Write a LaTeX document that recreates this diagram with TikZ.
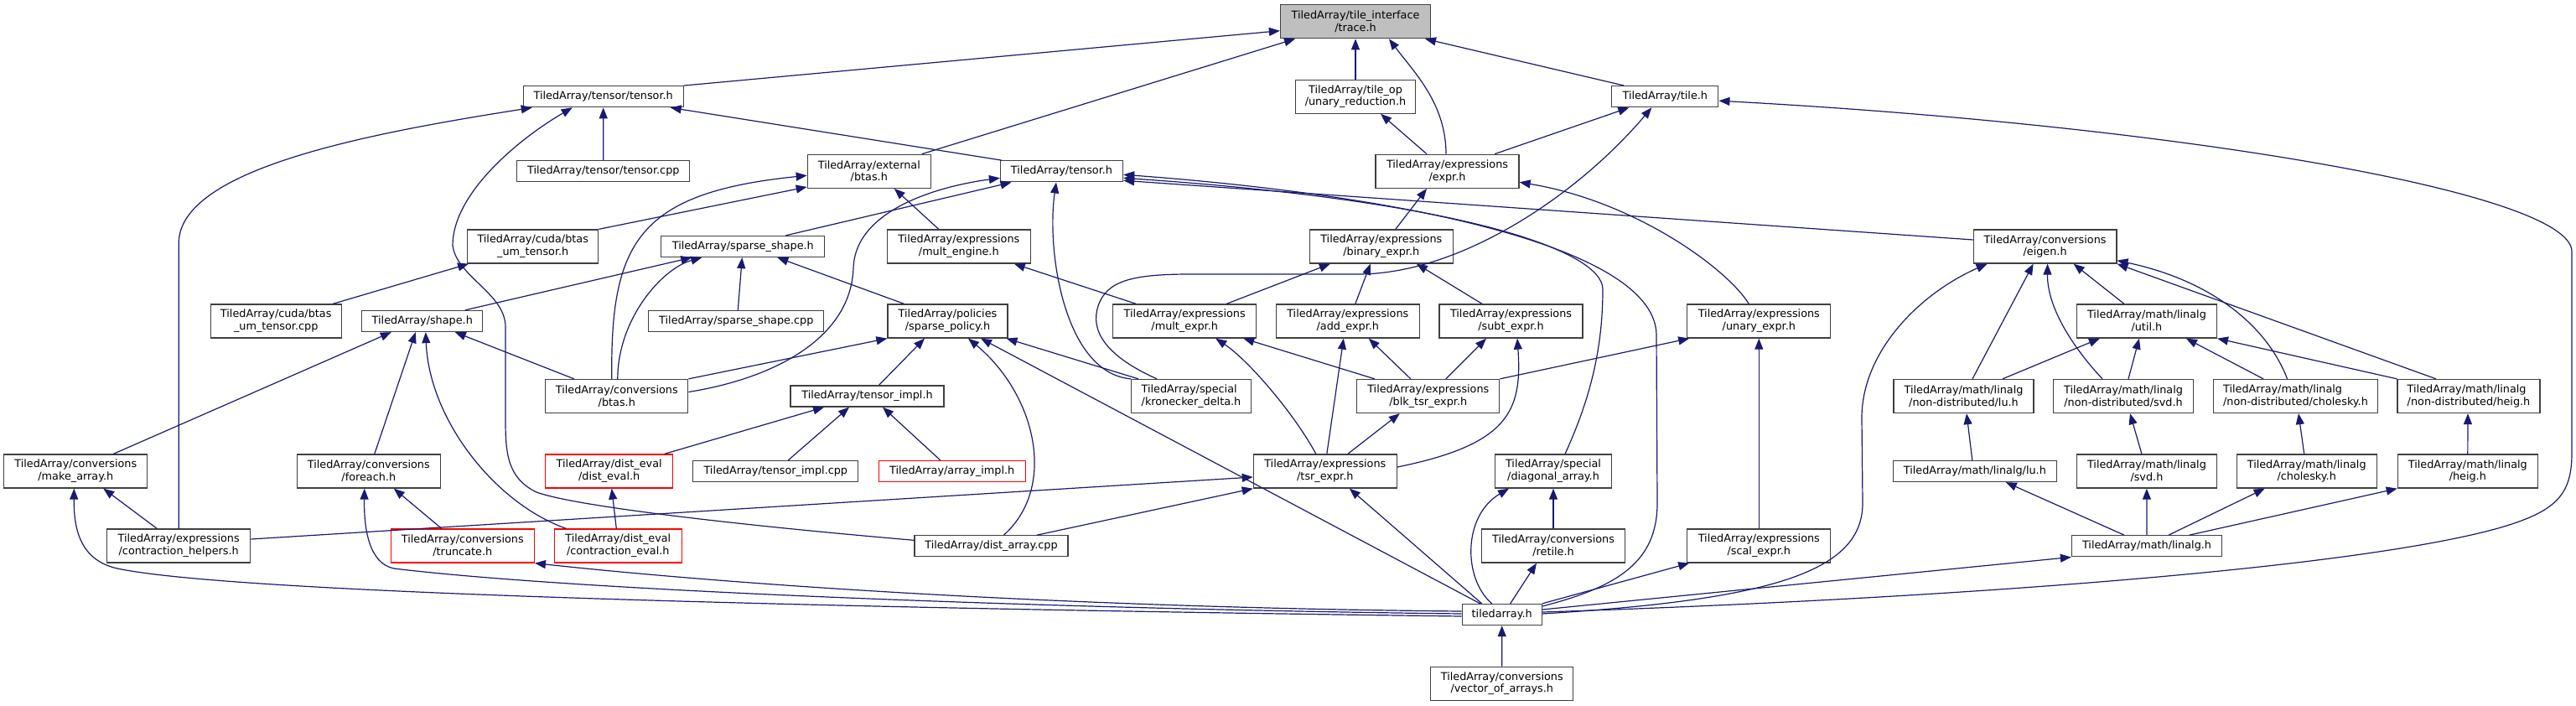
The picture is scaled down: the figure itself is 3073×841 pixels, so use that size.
\documentclass[tikz,border=0pt]{standalone}
\usepackage{fontspec}
\setmainfont{DejaVu Sans}
\usetikzlibrary{arrows.meta}
\definecolor{edgec}{HTML}{191970}
\definecolor{boxc}{HTML}{404040}
\definecolor{rootfill}{HTML}{BFBFBF}
\tikzset{
  box/.style={draw=boxc, fill=white, line width=1.3pt, inner sep=0pt, align=center,
    text=black, font={\fontsize{12.8}{14.8}\selectfont}},
  one/.style={box, minimum height=25pt},
  two/.style={box, minimum height=40pt},
  partial/.style={draw=red},
  rootbox/.style={fill=rootfill},
  edge/.style={draw=edgec, line width=1.2pt, -{Triangle[length=13pt,width=10pt]}},
}
\begin{document}
\begin{tikzpicture}[x=1pt,y=-1pt]
\useasboundingbox (0,0) rectangle (3073,841);
% ---------- nodes ----------
\node[two, minimum width=179pt, rootbox] (trace) at (1617,25.7) {TiledArray/tile\_interface\\/trace.h};
\node[one, minimum width=191pt] (ttensorh) at (719.7,115.2) {TiledArray/tensor/tensor.h};
\node[two, minimum width=143pt] (unaryred) at (1617,115.2) {TiledArray/tile\_op\\/unary\_reduction.h};
\node[one, minimum width=127pt] (tileh) at (1986.3,115.2) {TiledArray/tile.h};
\node[one, minimum width=206pt] (ttensorcpp) at (719.8,204.3) {TiledArray/tensor/tensor.cpp};
\node[two, minimum width=147pt] (extbtas) at (1036.8,204.3) {TiledArray/external\\/btas.h};
\node[one, minimum width=146pt] (tensorh) at (1266.5,204.3) {TiledArray/tensor.h};
\node[two, minimum width=171pt] (expr) at (1726.5,204.3) {TiledArray/expressions\\/expr.h};
\node[two, minimum width=156pt] (cudah) at (635.7,294) {TiledArray/cuda/btas\\\_um\_tensor.h};
\node[one, minimum width=195pt] (sshape) at (886.3,294) {TiledArray/sparse\_shape.h};
\node[two, minimum width=171pt] (multeng) at (1143.8,294) {TiledArray/expressions\\/mult\_engine.h};
\node[two, minimum width=171pt] (binexpr) at (1647.8,294) {TiledArray/expressions\\/binary\_expr.h};
\node[two, minimum width=170.5pt] (eigen) at (2439.6,294) {TiledArray/conversions\\/eigen.h};
\node[two, minimum width=156pt] (cudacpp) at (329.2,383) {TiledArray/cuda/btas\\\_um\_tensor.cpp};
\node[one, minimum width=144pt] (shape) at (503.8,383) {TiledArray/shape.h};
\node[one, minimum width=209pt] (sshapecpp) at (878.3,383) {TiledArray/sparse\_shape.cpp};
\node[two, minimum width=143pt] (spolicy) at (1130.5,383) {TiledArray/policies\\/sparse\_policy.h};
\node[two, minimum width=171pt] (multexpr) at (1413.2,383) {TiledArray/expressions\\/mult\_expr.h};
\node[two, minimum width=171pt] (addexpr) at (1607.8,383) {TiledArray/expressions\\/add\_expr.h};
\node[two, minimum width=171pt] (subtexpr) at (1802.5,383) {TiledArray/expressions\\/subt\_expr.h};
\node[two, minimum width=171pt] (unexpr) at (2098.3,383) {TiledArray/expressions\\/unary\_expr.h};
\node[two, minimum width=167pt] (util) at (2560.9,383) {TiledArray/math/linalg\\/util.h};
\node[two, minimum width=170pt] (convbtas) at (735.8,472.5) {TiledArray/conversions\\/btas.h};
\node[one, minimum width=183pt] (timplh) at (1034.5,472.5) {TiledArray/tensor\_impl.h};
\node[two, minimum width=143pt, align=left] (kron) at (1421,472.5) {TiledArray/special\\/kronecker\_delta.h};
\node[two, minimum width=170pt] (blktsr) at (1703.8,472.5) {TiledArray/expressions\\/blk\_tsr\_expr.h};
\node[two, minimum width=167pt] (ndlu) at (2342.5,472.5) {TiledArray/math/linalg\\/non-distributed/lu.h};
\node[two, minimum width=167pt] (ndsvd) at (2533,472.5) {TiledArray/math/linalg\\/non-distributed/svd.h};
\node[two, minimum width=196pt, align=left] (ndchol) at (2738.5,472.5) {TiledArray/math/linalg\\/non-distributed/cholesky.h};
\node[two, minimum width=170pt, align=left] (ndheig) at (2945,472.5) {TiledArray/math/linalg\\/non-distributed/heig.h};
\node[two, minimum width=171pt] (makearr) at (90.3,562) {TiledArray/conversions\\/make\_array.h};
\node[two, minimum width=171pt] (foreach) at (439.8,562) {TiledArray/conversions\\/foreach.h};
\node[two, minimum width=152pt, partial] (disteval) at (726.7,562) {TiledArray/dist\_eval\\/dist\_eval.h};
\node[one, minimum width=197pt] (timplcpp) at (925.3,562) {TiledArray/tensor\_impl.cpp};
\node[one, minimum width=175pt, partial] (arrimpl) at (1135.7,562) {TiledArray/array\_impl.h};
\node[two, minimum width=171pt] (tsrexpr) at (1580.8,562) {TiledArray/expressions\\/tsr\_expr.h};
\node[two, minimum width=139pt] (diag) at (1853,562) {TiledArray/special\\/diagonal\_array.h};
\node[one, minimum width=195pt] (linlu) at (2355.8,562) {TiledArray/math/linalg/lu.h};
\node[two, minimum width=167pt] (linsvd) at (2560.9,562) {TiledArray/math/linalg\\/svd.h};
\node[two, minimum width=167pt] (linchol) at (2751.7,562) {TiledArray/math/linalg\\/cholesky.h};
\node[two, minimum width=167pt] (linheig) at (2943.8,562) {TiledArray/math/linalg\\/heig.h};
\node[two, minimum width=171pt] (contrh) at (213.2,651) {TiledArray/expressions\\/contraction\_helpers.h};
\node[two, minimum width=171pt, partial] (trunc) at (551.8,651) {TiledArray/conversions\\/truncate.h};
\node[two, minimum width=152pt, partial] (contreval) at (737.3,651) {TiledArray/dist\_eval\\/contraction\_eval.h};
\node[one, minimum width=183pt] (distarr) at (1182.5,651.3) {TiledArray/dist\_array.cpp};
\node[two, minimum width=171pt] (retile) at (1853,651) {TiledArray/conversions\\/retile.h};
\node[two, minimum width=171pt] (scal) at (2098.3,651) {TiledArray/expressions\\/scal\_expr.h};
\node[one, minimum width=179pt] (linalg) at (2561,651.3) {TiledArray/math/linalg.h};
\node[one, minimum width=95pt] (tah) at (1791.7,733) {tiledarray.h};
\node[two, minimum width=170pt] (voa) at (1791.8,815.2) {TiledArray/conversions\\/vector\_of\_arrays.h};
% ---------- edges ----------
% trace.h
\draw[edge] (ttensorh.north east) -- ([yshift=-11]trace.west);
\draw[edge] ([xshift=63]extbtas.north) -- ([xshift=-72]trace.south);
\draw[edge] (unaryred.north) -- (trace.south);
\draw[edge] ([xshift=-1.5]expr.north) .. controls +(0,-60) and +(30,40) .. ([xshift=40]trace.south);
\draw[edge] ([xshift=-49]tileh.north) -- ([xshift=83]trace.south);
% tensor/tensor.h
\draw[edge] (ttensorcpp.north) -- (ttensorh.south);
\draw[edge] ([xshift=-71.5]tensorh.north) -- ([xshift=80]ttensorh.south);
\draw[edge] (contrh.north) -- ++(0,-340) .. controls +(0,-90) and +(-190,30) .. ([xshift=-85]ttensorh.south);
\draw[edge] ([yshift=7]distarr.west) .. controls (900,628) and (690,605) .. (640,587) .. controls (605,570) and (603,540) .. (603,500) -- (603,390) .. controls (603,350) and (545,330) .. (540,293) .. controls (540,230) and (620,165) .. ([xshift=-37]ttensorh.south);
% external/btas.h
\draw[edge] ([xshift=-6]convbtas.north) .. controls (728,290) and (760,230) .. ([yshift=-5]extbtas.west);
\draw[edge] (cudah.north east) -- ([yshift=2]extbtas.south west);
\draw[edge] ([xshift=-24]multeng.north) -- ([xshift=30]extbtas.south);
% tensor.h
\draw[edge] ([yshift=5]convbtas.east) .. controls (930,450) and (1015,400) .. (1018,320) .. controls (1020,250) and (1120,222) .. ([yshift=-8]tensorh.west);
\draw[edge] ([xshift=51]sshape.north) -- ([xshift=-60]tensorh.south);
\draw[edge] (kron.north west) .. controls (1270,445) and (1248,300) .. ([xshift=-6.5]tensorh.south);
\draw[edge] ([yshift=8]eigen.west) -- ([yshift=-11]tensorh.east);
\draw[edge] ([xshift=14]diag.north) .. controls (1895,480) and (1912,420) .. (1912,345) .. controls (1912,300) and (1750,240) .. ([yshift=-8]tensorh.east);
\draw[edge] ([yshift=10]tah.east) .. controls (1930,700) and (1977,670) .. (1977,600) -- (1976,400) .. controls (1976,300) and (1700,235) .. ([yshift=-4]tensorh.east);
% tile.h
\draw[edge] ([xshift=56.5]expr.north) -- ([xshift=-43]tileh.south);
\draw[edge] ([xshift=-41]kron.north) .. controls (1320,425) and (1300,395) .. (1310,365) .. controls (1320,335) and (1350,327) .. (1420,327) -- (1620,327) .. controls (1740,327) and (1880,235) .. ([xshift=-16]tileh.south);
\draw[edge] ([yshift=3]tah.east) .. controls (2300,715) and (2800,680) .. (2980,630) .. controls (3050,610) and (3068,590) .. (3068,540) -- (3068,300) .. controls (3068,230) and (2600,150) .. ([yshift=-5]tileh.east);
% cuda
\draw[edge] ([xshift=68]cudacpp.north) -- ([xshift=2]cudah.south west);
% sparse_shape.h
\draw[edge] ([xshift=1]convbtas.north) .. controls (737,380) and (790,320) .. ([xshift=-49]sshape.south);
\draw[edge] ([xshift=51]shape.north) -- ([xshift=-61]sshape.south);
\draw[edge] ([xshift=2]sshapecpp.north) -- ([xshift=-1]sshape.south);
\draw[edge] ([xshift=-52]spolicy.north) -- ([xshift=41]sshape.south);
% shape.h
\draw[edge] ([xshift=-51]convbtas.north) -- ([xshift=39]shape.south);
\draw[edge] ([xshift=-62]contreval.north) .. controls (590,600) and (512,500) .. ([xshift=4]shape.south);
\draw[edge] ([xshift=45]makearr.north) -- ([xshift=-37]shape.south);
\draw[edge] ([xshift=7]foreach.north) -- ([xshift=-8]shape.south);
% mult_engine.h
\draw[edge] ([xshift=-58]multexpr.north) -- ([xshift=66]multeng.south);
% sparse_policy.h
\draw[edge] (convbtas.north east) -- (spolicy.south west);
\draw[edge] ([xshift=-63]kron.north) -- ([xshift=70]spolicy.south);
\draw[edge] ([xshift=14]timplh.north) -- ([xshift=-27.5]spolicy.south);
\draw[edge] ([xshift=15]distarr.north) .. controls (1262,580) and (1235,470) .. ([xshift=24.5]spolicy.south);
\draw[edge] ([xshift=-26]tah.north) -- ([xshift=39.5]spolicy.south);
% expressions
\draw[edge] ([xshift=50]multexpr.north) -- ([xshift=-61]binexpr.south);
\draw[edge] ([xshift=9]addexpr.north) -- ([xshift=-13]binexpr.south);
\draw[edge] ([xshift=-34.5]subtexpr.north) -- ([xshift=42]binexpr.south);
\draw[edge] ([xshift=17]binexpr.north) -- ([xshift=-24.5]expr.south);
\draw[edge] ([xshift=-24.5]expr.north) -- ([xshift=30]unaryred.south);
\draw[edge] ([xshift=-12]unexpr.north) .. controls (2060,320) and (1950,240) .. ([yshift=-13]expr.east);
\draw[edge] ([xshift=-11]tsrexpr.north) .. controls (1545,495) and (1490,430) .. ([xshift=37]multexpr.south);
\draw[edge] ([xshift=-64]blktsr.north) -- ([xshift=70]multexpr.south);
\draw[edge] ([xshift=2]tsrexpr.north) -- ([xshift=-5]addexpr.south);
\draw[edge] ([xshift=-21]blktsr.north) -- ([xshift=25]addexpr.south);
\draw[edge] ([xshift=21]blktsr.north) -- ([xshift=-29.5]subtexpr.south);
\draw[edge] ([yshift=5]tsrexpr.east) .. controls (1800,530) and (1816,490) .. ([xshift=7.5]subtexpr.south);
\draw[edge] (blktsr.north east) -- ([xshift=3]unexpr.south west);
\draw[edge] (scal.north) -- (unexpr.south);
\draw[edge] (tah.north east) -- ([xshift=3]scal.south west);
\draw[edge] ([xshift=27]tsrexpr.north) -- ([xshift=-34]blktsr.south);
% tsr_expr.h
\draw[edge] ([yshift=8]contrh.east) -- ([yshift=-7]tsrexpr.west);
\draw[edge] ([xshift=54.5]distarr.north) -- (tsrexpr.south west);
\draw[edge] ([xshift=-24]tah.north) -- ([xshift=29]tsrexpr.south);
% diagonal / retile / tiledarray
\draw[edge] ([xshift=-12]tah.north) .. controls (1745,690) and (1745,615) .. ([xshift=-53]diag.south);
\draw[edge] (retile.north) -- (diag.south);
\draw[edge] ([xshift=10]tah.north) -- ([xshift=-20]retile.south);
\draw[edge] (voa.north) -- (tah.south);
% eigen.h
\draw[edge] ([yshift=1]tah.east) .. controls (2120,715) and (2222,680) .. (2222,600) -- (2221,500) .. controls (2220,420) and (2290,350) .. ([xshift=-69]eigen.south);
\draw[edge] ([xshift=10.5]ndlu.north) -- ([xshift=-14]eigen.south);
\draw[edge] ([xshift=-25]ndsvd.north) .. controls (2478,420) and (2442,370) .. ([xshift=3]eigen.south);
\draw[edge] ([xshift=-27]util.north) -- ([xshift=34]eigen.south);
\draw[edge] ([xshift=-10]ndchol.north) .. controls (2705,390) and (2640,335) .. ([yshift=4]eigen.south east);
\draw[edge] ([xshift=-39]ndheig.north) -- (eigen.south east);
% util.h
\draw[edge] ([xshift=46.5]ndlu.north) -- ([xshift=-56]util.south);
\draw[edge] ([xshift=6]ndsvd.north) -- ([xshift=-9]util.south);
\draw[edge] ([xshift=-38.5]ndchol.north) -- ([xshift=47]util.south);
\draw[edge] (ndheig.north west) -- (util.south east);
% non-distributed
\draw[edge] ([xshift=-3]linlu.north) -- ([xshift=3.5]ndlu.south);
\draw[edge] ([xshift=-6]linsvd.north) -- ([xshift=8]ndsvd.south);
\draw[edge] ([xshift=-3]linchol.north) -- ([xshift=3.5]ndchol.south);
\draw[edge] (linheig.north) -- ([xshift=-1]ndheig.south);
% linalg.h
\draw[edge] ([xshift=-27]linalg.north) -- ([xshift=37]linlu.south);
\draw[edge] (linalg.north) -- (linsvd.south);
\draw[edge] ([xshift=26]linalg.north) -- ([xshift=-50]linchol.south);
\draw[edge] ([xshift=50.7]linalg.north) -- (linheig.south west);
\draw[edge] ([yshift=6]tah.east) -- (linalg.south west);
% left side
\draw[edge] ([xshift=-26]contrh.north) -- ([xshift=33]makearr.south);
\draw[edge] ([yshift=-2]tah.west) .. controls (1200,728) and (300,712) .. (140,678) .. controls (95,668) and (88,630) .. ([xshift=-2]makearr.south);
\draw[edge] ([yshift=1]tah.west) .. controls (1300,727) and (700,706) .. (470,678) .. controls (440,672) and (434,630) .. ([xshift=-5]foreach.south);
\draw[edge] ([yshift=4]tah.west) .. controls (1300,725) and (900,700) .. (trunc.south east);
\draw[edge] ([xshift=-25]trunc.north) -- ([xshift=30]foreach.south);
\draw[edge] ([xshift=-2]contreval.north) -- ([xshift=3]disteval.south);
\draw[edge] ([xshift=66]disteval.north) -- ([xshift=-51.5]timplh.south);
\draw[edge] ([xshift=15]timplcpp.north) -- ([xshift=-21.5]timplh.south);
\draw[edge] ([xshift=-14]arrimpl.north) -- ([xshift=18.5]timplh.south);
\end{tikzpicture}
\end{document}
